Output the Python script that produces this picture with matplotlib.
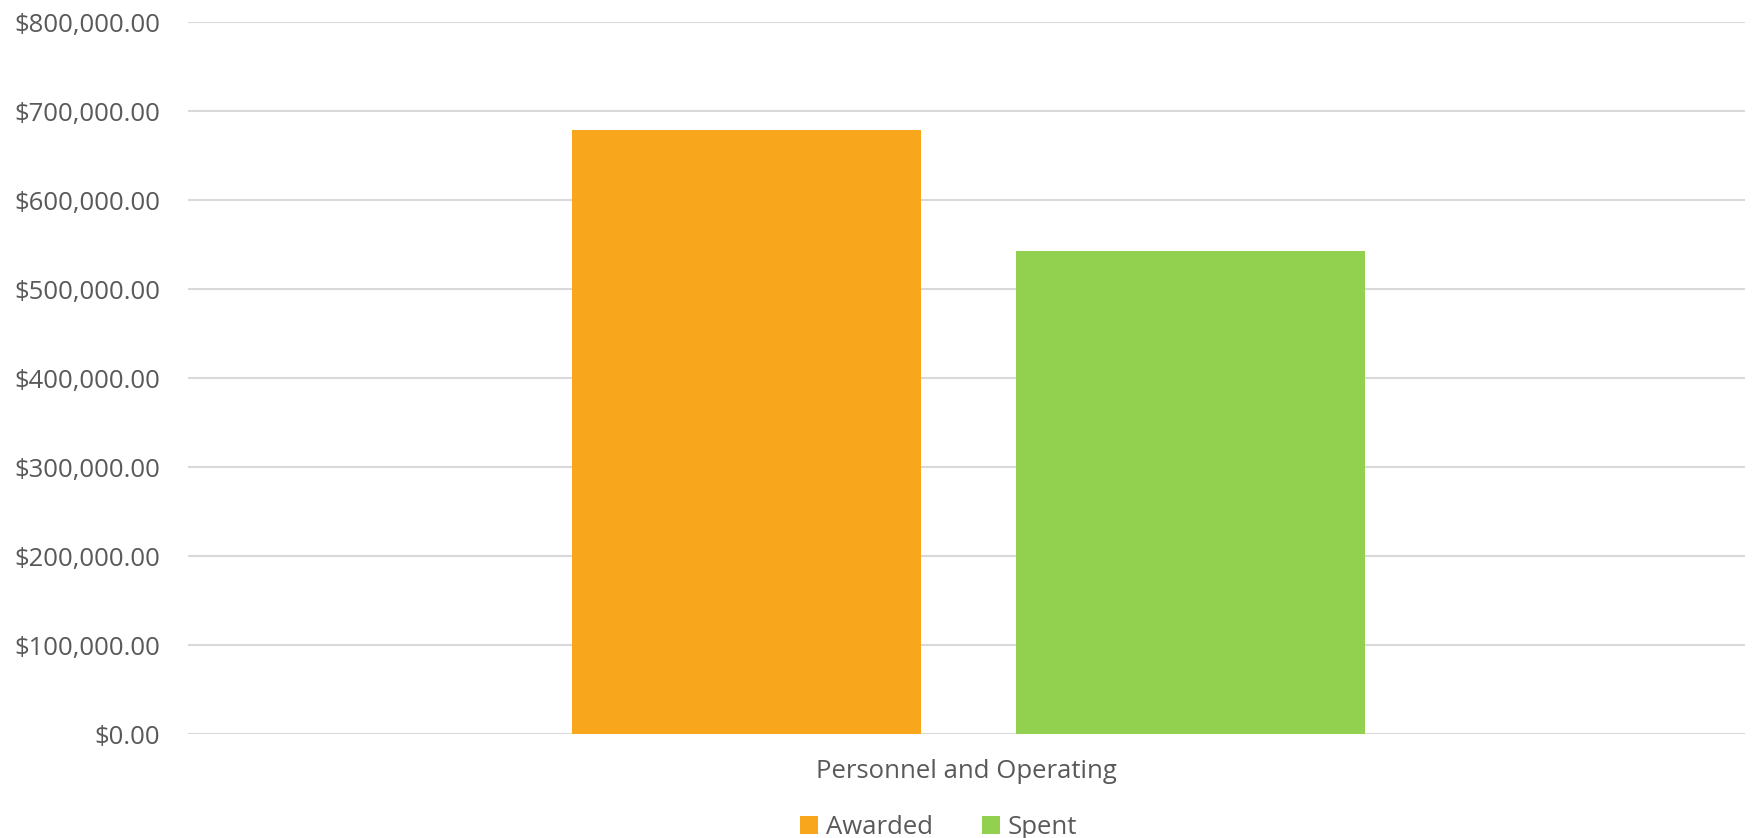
import matplotlib.pyplot as plt
from matplotlib.ticker import FuncFormatter

# data
categories = ['Personnel and Operating']
series_names = ['Awarded', 'Spent']
awarded = [679000]
spent = [543000]
colors = ['#f8a61c', '#92d050']

plt.rcParams['font.family'] = ['Open Sans', 'DejaVu Sans']

fig = plt.figure(figsize=(17.54, 8.38), dpi=100)
ax = fig.add_axes([0.1072, 0.1241, 0.8877, 0.8496])

width = 0.224
ax.bar([-0.1415], awarded, width, color=colors[0], label=series_names[0], zorder=3)
ax.bar([0.144], spent, width, color=colors[1], label=series_names[1], zorder=3)

ax.set_xlim(-0.5, 0.5)
ax.set_ylim(0, 800000)
ax.set_yticks(range(0, 800001, 100000))
ax.yaxis.set_major_formatter(FuncFormatter(lambda v, p: '${:,.2f}'.format(v)))
ax.set_xticks([0])
ax.set_xticklabels(categories)

ax.grid(axis='y', color='#d9d9d9', linewidth=1.5, zorder=0)
for s in ax.spines.values():
    s.set_visible(False)
ax.tick_params(axis='both', length=0, labelsize=18.5, labelcolor='#595959')
ax.tick_params(axis='y', pad=20)
ax.tick_params(axis='x', pad=18)

fig.legend(loc='lower center', ncol=2, frameon=False, fontsize=18.5,
           handlelength=0.7, handleheight=0.7, handletextpad=0.3,
           columnspacing=1.9, labelcolor='#595959',
           bbox_to_anchor=(0.535, -0.03))

fig.savefig('out.png', dpi=100)
